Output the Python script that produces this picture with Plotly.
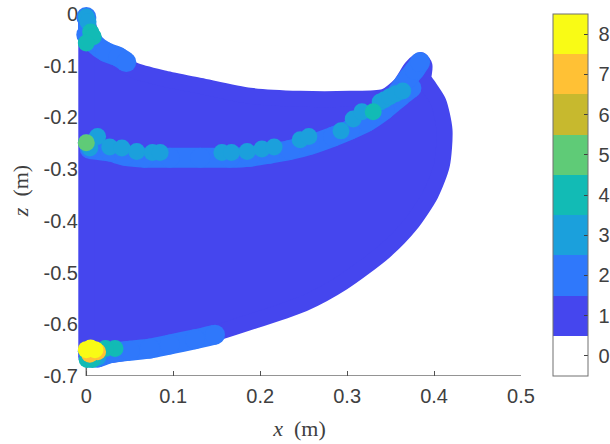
import plotly.graph_objects as go

level_values = [0, 1, 2, 3, 4, 5, 6, 7, 8]
level_colors = ["#FFFFFF", "#4546EE", "#2F78FB", "#1BA0DC", "#12BBB5", "#5FCB77", "#C7B92E", "#FFC135", "#F9FB15"]

x_ticks = [0, 0.1, 0.2, 0.3, 0.4, 0.5]
x_tick_text = ["0", "0.1", "0.2", "0.3", "0.4", "0.5"]
z_ticks = [0, -0.1, -0.2, -0.3, -0.4, -0.5, -0.6, -0.7]
z_tick_text = ["0", "-0.1", "-0.2", "-0.3", "-0.4", "-0.5", "-0.6", "-0.7"]

outline_x = [0, 0, .004, .016, .054, .090, .131, .188, .246, .303, .343, .361, .374, .384, .389, .388, .395, .405, .412, .409, .396, .373, .343, .295, .250, .197, .117, .053, .009, 0, 0, 0]
outline_z = [-.010, -.006, -.031, -.066, -.108, -.125, -.139, -.158, -.164, -.164, -.160, -.137, -.104, -.089, -.100, -.125, -.143, -.170, -.224, -.292, -.349, -.407, -.459, -.519, -.560, -.591, -.633, -.653, -.664, -.664, -.660, -.010]

top2_x = [0, 0, .007, .022, .037, .046]
top2_z = [-.006, -.04, -.054, -.073, -.083, -.093]
mid2_x = [.004, .027, .044, .067, .096, .131, .165, .188, .211, .234, .257, .284, .303, .323, .343, .361, .374]
mid2_z = [-.261, -.266, -.274, -.278, -.278, -.278, -.278, -.276, -.270, -.263, -.253, -.237, -.224, -.208, -.185, -.160, -.143]
tip2_x = [.358, .370, .378, .384]
tip2_z = [-.151, -.124, -.108, -.093]
low2_x = [.148, .125, .096, .073, .050, .027, .013, .004]
low2_z = [-.620, -.629, -.639, -.647, -.651, -.656, -.664, -.664]
dots2_x = [0, .012, 0]
dots2_z = [-.249, -.239, -.652]

l3_x = [0, .002, .013, .004, .027, .041, .058, .076, .085, .156, .167, .185, .202, .216, .246, .256, .293, .307, .317, .338, .343, .349, .356, .364, .013]
l3_z = [-.006, -.015, -.237, -.259, -.257, -.259, -.266, -.268, -.268, -.268, -.268, -.266, -.261, -.257, -.243, -.237, -.226, -.203, -.189, -.170, -.166, -.160, -.154, -.149, -.664]
l4_x = [.005, .008, 0, .330, .033, .022, .001, .007]
l4_z = [-.035, -.044, -.056, -.189, -.647, -.647, -.668, -.668]
l5_x = [0]
l5_z = [-.249]
l7_x = [.013, .004]
l7_z = [-.653, -.658]
l8_x = [0, .010, .005]
l8_z = [-.649, -.649, -.646]

X_RANGE = [-0.00954, 0.5]
Z_RANGE = [-0.7, 0.0174]

DOT = 17
BAND = 20
EDGE = 16
fig = go.Figure()

fig.add_trace(go.Scatter(x=outline_x, y=outline_z, mode="lines", fill="toself",
                         fillcolor=level_colors[1],
                         line=dict(color=level_colors[1], width=EDGE, shape="spline", smoothing=0.7),
                         cliponaxis=False, showlegend=False, hoverinfo="skip"))

for xs, zs in [(top2_x, top2_z), (mid2_x, mid2_z), (tip2_x, tip2_z), (low2_x, low2_z)]:
    fig.add_trace(go.Scatter(x=xs, y=zs, mode="lines+markers",
                             line=dict(color=level_colors[2], width=BAND, shape="spline", smoothing=0.7),
                             marker=dict(size=BAND, color=[2] * len(xs), coloraxis="coloraxis"),
                             cliponaxis=False, showlegend=False))

for xs, zs, lev in [(dots2_x, dots2_z, 2), (l3_x, l3_z, 3), (l4_x, l4_z, 4), (l5_x, l5_z, 5), (l7_x, l7_z, 7), (l8_x, l8_z, 8)]:
    fig.add_trace(go.Scatter(x=xs, y=zs, mode="markers",
                             marker=dict(size=DOT, color=[lev] * len(xs), coloraxis="coloraxis"),
                             cliponaxis=False, showlegend=False))

scale = []
n = len(level_colors)
for i, c in enumerate(level_colors):
    scale.append([i / n, c])
    scale.append([(i + 1) / n, c])

tick_font = dict(family="Liberation Sans, Arial, sans-serif", size=20, color="#404040")
title_font = dict(family="Liberation Serif, serif", size=22, color="#404040")

fig.add_shape(type="line", xref="x", yref="y", x0=0, x1=0.5, y0=-0.7, y1=-0.7,
              line=dict(color="#707070", width=1.5), layer="below")
fig.add_shape(type="line", xref="x", yref="y", x0=0, x1=0, y0=-0.7, y1=0,
              line=dict(color="#707070", width=1.5), layer="below")

fig.update_layout(
    width=610, height=444,
    margin=dict(l=78, r=89, t=5, b=68, pad=0, autoexpand=False),
    paper_bgcolor="white", plot_bgcolor="white",
    coloraxis=dict(
        cmin=-0.5, cmax=8.5, colorscale=scale,
        colorbar=dict(
            x=1.0722, xanchor="left", y=0, yanchor="bottom", len=0.9757, lenmode="fraction",
            thickness=35, thicknessmode="pixels", xpad=0, ypad=0,
            tickvals=level_values, ticktext=["\u00a0" + str(v) for v in level_values],
            ticks="inside", ticklen=4, tickcolor="#404040", tickwidth=1,
            outlinecolor="#707070", outlinewidth=1, tickfont=tick_font,
        ),
    ),
    xaxis=dict(range=X_RANGE, tickvals=x_ticks, ticktext=x_tick_text, ticks="inside", ticklen=5,
               tickcolor="#505050", showgrid=False, zeroline=False, showline=False,
               layer="below traces", tickfont=tick_font, ticklabelstandoff=6,
               title=dict(text="<i>x</i>\u2002(m)", font=title_font, standoff=14)),
    yaxis=dict(range=Z_RANGE, tickvals=z_ticks, ticktext=z_tick_text, ticks="",
               showgrid=False, zeroline=False, showline=False,
               layer="below traces", tickfont=tick_font, ticklabelstandoff=-1,
               title=dict(text="<i>z</i>\u2002(m)", font=title_font, standoff=8)),
)

fig.write_html("out.html", config={"displayModeBar": False},
               post_script="document.body.style.margin='0';")
